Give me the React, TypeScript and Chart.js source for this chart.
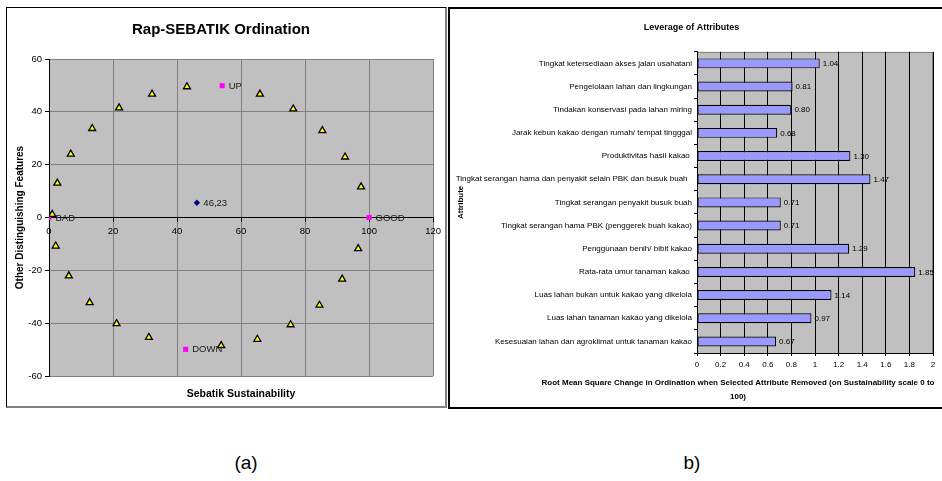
import React, { useEffect, useRef } from 'react';
import { Chart, registerables } from 'chart.js';

Chart.register(...registerables);

const FONT = "'Liberation Sans', Arial, Helvetica, sans-serif";

// ---------- (a) Rap-SEBATIK ordination ----------
const ordinationTitle = 'Rap-SEBATIK Ordination';
const ordinationXTitle = 'Sebatik Sustainability';
const ordinationYTitle = 'Other Distinguishing Features';

const anchorX = [1.0, 2.6, 6.8, 13.5, 21.9, 32.2, 43.1, 65.9, 76.3, 85.4, 92.5, 97.5, 2.1, 6.2, 12.7, 21.1, 31.2, 53.8, 65.1, 75.5, 84.5, 91.6, 96.6];
const anchorY = [1.2, 13.0, 24.0, 33.7, 41.5, 46.7, 49.5, 46.7, 41.1, 32.9, 22.9, 11.6, -10.8, -22.1, -32.2, -40.2, -45.4, -48.5, -46.1, -40.6, -33.2, -23.3, -11.8];

const referenceLabels = ['BAD', 'GOOD', 'UP', 'DOWN'];
const referenceX = [0, 100, 54.1, 42.7];
const referenceY = [0, 0, 49.9, -49.9];

const sebatikLabels = ['46,23'];
const sebatikX = [46.2];
const sebatikY = [5.6];

// ---------- (b) Leverage of attributes ----------
const leverageTitle = 'Leverage of Attributes';
const leverageYTitle = 'Attribute';
const leverageXTitle = [
  'Root Mean Square Change in Ordination when Selected Attribute Removed (on Sustainability scale 0 to',
  '100)',
];
const attributes = [
  'Tingkat ketersediaan akses jalan usahatani',
  'Pengelolaan lahan dan lingkungan',
  'Tindakan konservasi pada lahan miring',
  'Jarak kebun kakao dengan rumah/ tempat tingggal',
  'Produktivitas hasil kakao ',
  'Tingkat serangan hama dan penyakit selain PBK dan busuk buah  ',
  'Tingkat serangan penyakit busuk buah',
  'Tingkat serangan hama PBK (penggerek buah kakao)',
  'Penggunaan benih/ bibit kakao',
  'Rata-rata umur tanaman kakao ',
  'Luas lahan bukan untuk kakao yang dikelola',
  'Luas lahan tanaman kakao yang dikelola',
  'Kesesuaian lahan dan agroklimat untuk tanaman kakao',
];
const leverage = [1.04, 0.81, 0.8, 0.68, 1.3, 1.47, 0.71, 0.71, 1.29, 1.85, 1.14, 0.97, 0.67];
const leverageTicks = ['0', '0.2', '0.4', '0.6', '0.8', '1', '1.2', '1.4', '1.6', '1.8', '2'];

const panelCaptions = ['(a)', 'b)'];

function plotBackground(fill: string, frame?: string) {
  return {
    id: 'plotBackground',
    beforeDraw(chart: any) {
      const { ctx, chartArea: a } = chart;
      ctx.save();
      ctx.fillStyle = fill;
      ctx.fillRect(a.left, a.top, a.right - a.left, a.bottom - a.top);
      if (frame) {
        ctx.strokeStyle = frame;
        ctx.lineWidth = 1;
        ctx.strokeRect(Math.round(a.left) + 0.5, Math.round(a.top) + 0.5, Math.round(a.right - a.left) - 1, Math.round(a.bottom - a.top));
      }
      ctx.restore();
    },
  };
}

const pointLabelPlugin = {
  id: 'pointLabels',
  afterDatasetsDraw(chart: any) {
    const { ctx } = chart;
    ctx.save();
    ctx.font = `9.5px ${FONT}`;
    ctx.fillStyle = '#1a1a1a';
    ctx.textAlign = 'left';
    ctx.textBaseline = 'middle';
    chart.data.datasets.forEach((ds: any, i: number) => {
      if (!ds.pointLabels) return;
      chart.getDatasetMeta(i).data.forEach((el: any, j: number) => {
        ctx.fillText(ds.pointLabels[j], el.x + 6.5, el.y + 0.5);
      });
    });
    ctx.restore();
  },
};

const ordinationXTitlePlugin = {
  id: 'ordXTitle',
  afterDraw(chart: any) {
    const { ctx, chartArea: a } = chart;
    ctx.save();
    ctx.font = `bold 10.5px ${FONT}`;
    ctx.fillStyle = '#000';
    ctx.textAlign = 'center';
    ctx.textBaseline = 'middle';
    ctx.fillText(ordinationXTitle, (a.left + a.right) / 2, a.bottom + 18);
    ctx.restore();
  },
};

const valueLabelPlugin = {
  id: 'valueLabels',
  afterDatasetsDraw(chart: any) {
    const { ctx } = chart;
    ctx.save();
    ctx.font = `8px ${FONT}`;
    ctx.fillStyle = '#000';
    ctx.textAlign = 'left';
    ctx.textBaseline = 'middle';
    chart.getDatasetMeta(0).data.forEach((el: any, j: number) => {
      ctx.fillText(leverage[j].toFixed(2), el.x + 3, el.y + 0.5);
    });
    ctx.restore();
  },
};

const leverageXTitlePlugin = {
  id: 'levXTitle',
  afterDraw(chart: any) {
    const { ctx, chartArea: a } = chart;
    ctx.save();
    ctx.font = `bold 8px ${FONT}`;
    ctx.fillStyle = '#000';
    ctx.textAlign = 'center';
    ctx.textBaseline = 'middle';
    const cx = chart.width / 2 + 42;
    leverageXTitle.forEach((line, i) => ctx.fillText(line, cx, a.bottom + 30 + i * 14));
    ctx.restore();
  },
};

function OrdinationChart() {
  const ref = useRef<HTMLCanvasElement>(null);
  useEffect(() => {
    if (!ref.current) return;
    const tickFont = { family: FONT, size: 9.5 };
    const chart = new Chart(ref.current, {
      type: 'scatter',
      data: {
        datasets: [
          {
            data: anchorX.map((x, i) => ({ x, y: anchorY[i] })),
            pointStyle: 'triangle',
            pointRadius: 4,
            backgroundColor: '#ffff00',
            borderColor: '#000',
            borderWidth: 1.3,
          },
          {
            data: referenceX.map((x, i) => ({ x, y: referenceY[i] })),
            pointStyle: 'rect',
            pointRadius: 3.6,
            backgroundColor: '#ff00ff',
            borderColor: '#ff00ff',
            borderWidth: 0,
            pointLabels: referenceLabels,
          } as any,
          {
            data: sebatikX.map((x, i) => ({ x, y: sebatikY[i] })),
            pointStyle: 'rectRot',
            pointRadius: 3.2,
            backgroundColor: '#000080',
            borderColor: '#000080',
            borderWidth: 0,
            pointLabels: sebatikLabels,
          } as any,
        ],
      },
      options: {
        responsive: false,
        animation: false,
        events: [],
        layout: { padding: { left: 0, right: 10, top: 0, bottom: 30 } },
        plugins: {
          legend: { display: false },
          tooltip: { enabled: false },
          title: {
            display: true,
            text: ordinationTitle,
            color: '#000',
            font: { family: FONT, size: 15, weight: 'bold' },
            padding: { top: 13, bottom: 20 },
          },
        },
        scales: {
          x: {
            type: 'linear',
            position: { y: 0 } as any,
            min: 0,
            max: 120,
            ticks: { stepSize: 20, color: '#000', font: tickFont, padding: 4, maxRotation: 0 },
            grid: {
              color: (c: any) => (c.tick && c.tick.value === 0 ? '#000' : '#808080'),
              tickColor: '#000',
              tickLength: 4,
              lineWidth: 1,
            },
            border: { color: '#000', width: 1 },
          },
          y: {
            type: 'linear',
            min: -60,
            max: 60,
            ticks: { stepSize: 20, color: '#000', font: tickFont, padding: 3 },
            grid: {
              color: (c: any) => (c.tick && c.tick.value === 0 ? '#000' : '#808080'),
              tickColor: '#000',
              tickLength: 4,
              lineWidth: 1,
            },
            border: { color: '#000', width: 1 },
            title: {
              display: true,
              text: ordinationYTitle,
              color: '#000',
              font: { family: FONT, size: 10, weight: 'bold' },
              padding: { top: 7, bottom: 0 },
            },
            afterFit: (s: any) => {
              s.width = 42;
            },
          },
        },
      } as any,
      plugins: [plotBackground('#c0c0c0'), pointLabelPlugin, ordinationXTitlePlugin],
    });
    return () => chart.destroy();
  }, []);
  return <canvas ref={ref} width={438} height={398} style={{ position: 'absolute', left: 7, top: 8, width: 438, height: 398 }} />;
}

function LeverageChart() {
  const ref = useRef<HTMLCanvasElement>(null);
  useEffect(() => {
    if (!ref.current) return;
    const tickFont = { family: FONT, size: 8 };
    const chart = new Chart(ref.current, {
      type: 'bar',
      data: {
        labels: attributes,
        datasets: [
          {
            data: leverage,
            backgroundColor: '#9999ff',
            borderColor: '#000',
            borderWidth: 1.2,
            borderSkipped: false,
            barPercentage: 0.43,
            categoryPercentage: 1,
          },
        ],
      },
      options: {
        indexAxis: 'y',
        responsive: false,
        animation: false,
        events: [],
        layout: { padding: { left: 0, right: 9, top: 0, bottom: 0 } },
        plugins: {
          legend: { display: false },
          tooltip: { enabled: false },
          title: {
            display: true,
            text: leverageTitle,
            color: '#000',
            font: { family: FONT, size: 9, weight: 'bold' },
            padding: { top: 13, bottom: 19 },
          },
        },
        scales: {
          x: {
            type: 'linear',
            min: 0,
            max: 2,
            ticks: {
              stepSize: 0.2,
              autoSkip: false,
              maxRotation: 0,
              color: '#000',
              font: tickFont,
              padding: 4,
              callback: (_v: any, i: number) => leverageTicks[i],
            },
            grid: { color: '#000', tickColor: '#000', tickLength: 3, lineWidth: 1 },
            border: { color: '#000', width: 1 },
            afterFit: (s: any) => {
              s.height = 54;
            },
          },
          y: {
            type: 'category',
            ticks: { autoSkip: false, color: '#000', font: tickFont, padding: 2 },
            grid: { offset: true, drawOnChartArea: false, color: '#000', tickLength: 3 },
            border: { color: '#000', width: 1 },
            title: {
              display: true,
              text: leverageYTitle,
              color: '#000',
              font: { family: FONT, size: 8, weight: 'bold' },
              padding: { top: 6, bottom: 0 },
            },
            afterFit: (s: any) => {
              s.width = 247;
            },
          },
        },
      } as any,
      plugins: [plotBackground('#c0c0c0', '#808080'), valueLabelPlugin, leverageXTitlePlugin],
    });
    return () => chart.destroy();
  }, []);
  return <canvas ref={ref} width={492} height={398} style={{ position: 'absolute', left: 450, top: 9, width: 492, height: 398 }} />;
}

export default function App() {
  const caption: React.CSSProperties = {
    position: 'absolute',
    top: 462,
    transform: 'translate(-50%, -50%)',
    fontFamily: FONT,
    fontSize: 19,
    lineHeight: 1,
    color: '#000',
    whiteSpace: 'nowrap',
  };
  return (
    <div style={{ position: 'fixed', left: 0, top: 0, width: 942, height: 481, background: '#fff', overflow: 'hidden' }}>
      <div
        style={{
          position: 'absolute',
          left: 6,
          top: 7,
          width: 441,
          height: 401,
          boxSizing: 'border-box',
          borderLeft: '1px solid #000',
          borderTop: '1px solid #000',
          borderRight: '2px solid #808080',
          borderBottom: '2px solid #808080',
        }}
      />
      <div
        style={{
          position: 'absolute',
          left: 448,
          top: 7,
          width: 510,
          height: 402,
          boxSizing: 'border-box',
          border: '2px solid #000',
        }}
      />
      <OrdinationChart />
      <LeverageChart />
      <div style={{ ...caption, left: 246 }}>{panelCaptions[0]}</div>
      <div style={{ ...caption, left: 692 }}>{panelCaptions[1]}</div>
    </div>
  );
}
